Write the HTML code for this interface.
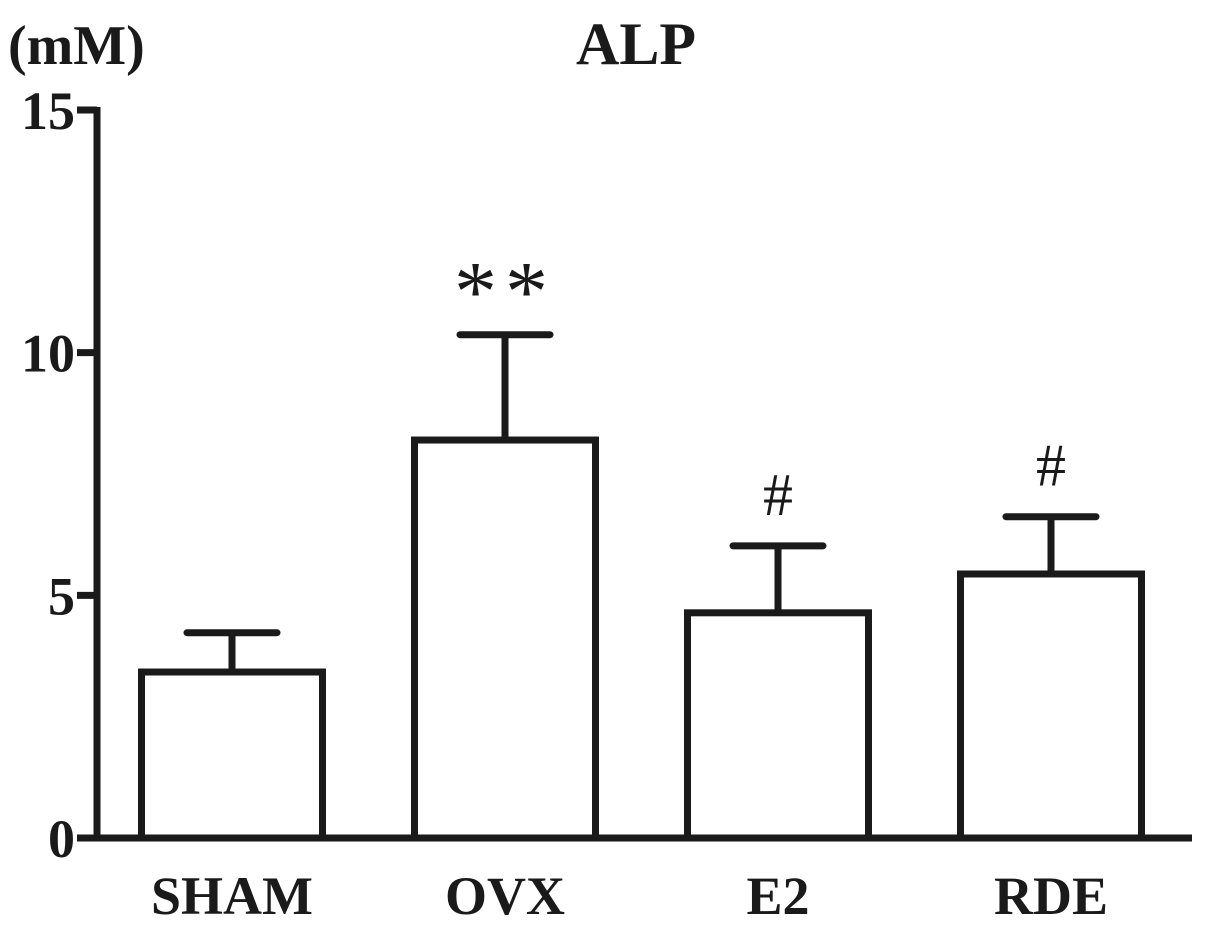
<!DOCTYPE html>
<html><head><meta charset="utf-8"><style>
html,body{margin:0;padding:0;background:#fff;}
svg{display:block;font-family:"Liberation Serif",serif;font-weight:bold;}
</style></head><body>
<svg id="chart" width="1205" height="926" viewBox="0 0 1205 926">
<text x="8" y="64" font-size="56" fill="#1a1a1a">(mM)</text>
<text x="636" y="64" font-size="60" fill="#1a1a1a" text-anchor="middle">ALP</text>
<g id="axes"></g>
<g id="bars"></g>
</svg>
<script>
const categories = ["SHAM","OVX","E2","RDE"];
const means = [3.42, 8.2, 4.64, 5.44];
const errors = [0.81, 2.17, 1.38, 1.18];
const marks = ["", "**", "#", "#"];
const yTicks = [0, 5, 10, 15];

const NS = "http://www.w3.org/2000/svg";
const y0 = 838, y1 = 110, xAxisL = 97, xAxisR = 1192;
function yScale(v){ return y0 - (v/15)*(y0-y1); }
function xCenter(i){ return 232 + 273*i; }
const barW = 181;
function mk(tag, attrs, parent){ const e=document.createElementNS(NS,tag); for(const k in attrs) e.setAttribute(k,attrs[k]); parent.appendChild(e); return e; }
const axes = document.getElementById("axes"), bars = document.getElementById("bars");
const stroke = "#1a1a1a", sw = 7;

let l = mk("line",{x1:xAxisL,y1:y1-3,x2:xAxisL,y2:y0+3,stroke:stroke,"stroke-width":sw},axes);


l = mk("line",{x1:xAxisL-3,y1:y0,x2:xAxisR,y2:y0,stroke:stroke,"stroke-width":sw},axes);



yTicks.forEach(t=>{
  const y = yScale(t);
  const tk = mk("line",{x1:xAxisL-20,y1:y,x2:xAxisL,y2:y,stroke:stroke,"stroke-width":sw},axes);
  
  
  const tx = mk("text",{x:xAxisL-22,y:y+19,"font-size":54,"text-anchor":"end",fill:stroke},axes);
  tx.textContent = t;
  
  
});

categories.forEach((c,i)=>{
  const cx = xCenter(i), top = yScale(means[i]), et = yScale(means[i]+errors[i]);
  const r = mk("rect",{x:cx-barW/2,y:top,width:barW,height:y0-top,fill:"#fff",stroke:stroke,"stroke-width":sw},bars);
  
  
  const ev = mk("line",{x1:cx,y1:top,x2:cx,y2:et,stroke:stroke,"stroke-width":sw},bars);
  
  
  const ec = mk("line",{x1:cx-45,y1:et,x2:cx+45,y2:et,stroke:stroke,"stroke-width":sw,"stroke-linecap":"round"},bars);
  
  
  const lb = mk("text",{x:cx,y:914,"font-size":54,"text-anchor":"middle",fill:stroke},bars);
  lb.textContent = c;
  
  
  if(marks[i]){
    const star = marks[i]==="**";
    const m = mk("text",{x:cx,y:et-(star?14:31),"font-size":star?86:60,"text-anchor":"middle",fill:stroke,"font-weight":"normal","letter-spacing":star?"8":"0"},bars);
    m.textContent = marks[i];
    
    
  }
});
</script>
</body></html>
